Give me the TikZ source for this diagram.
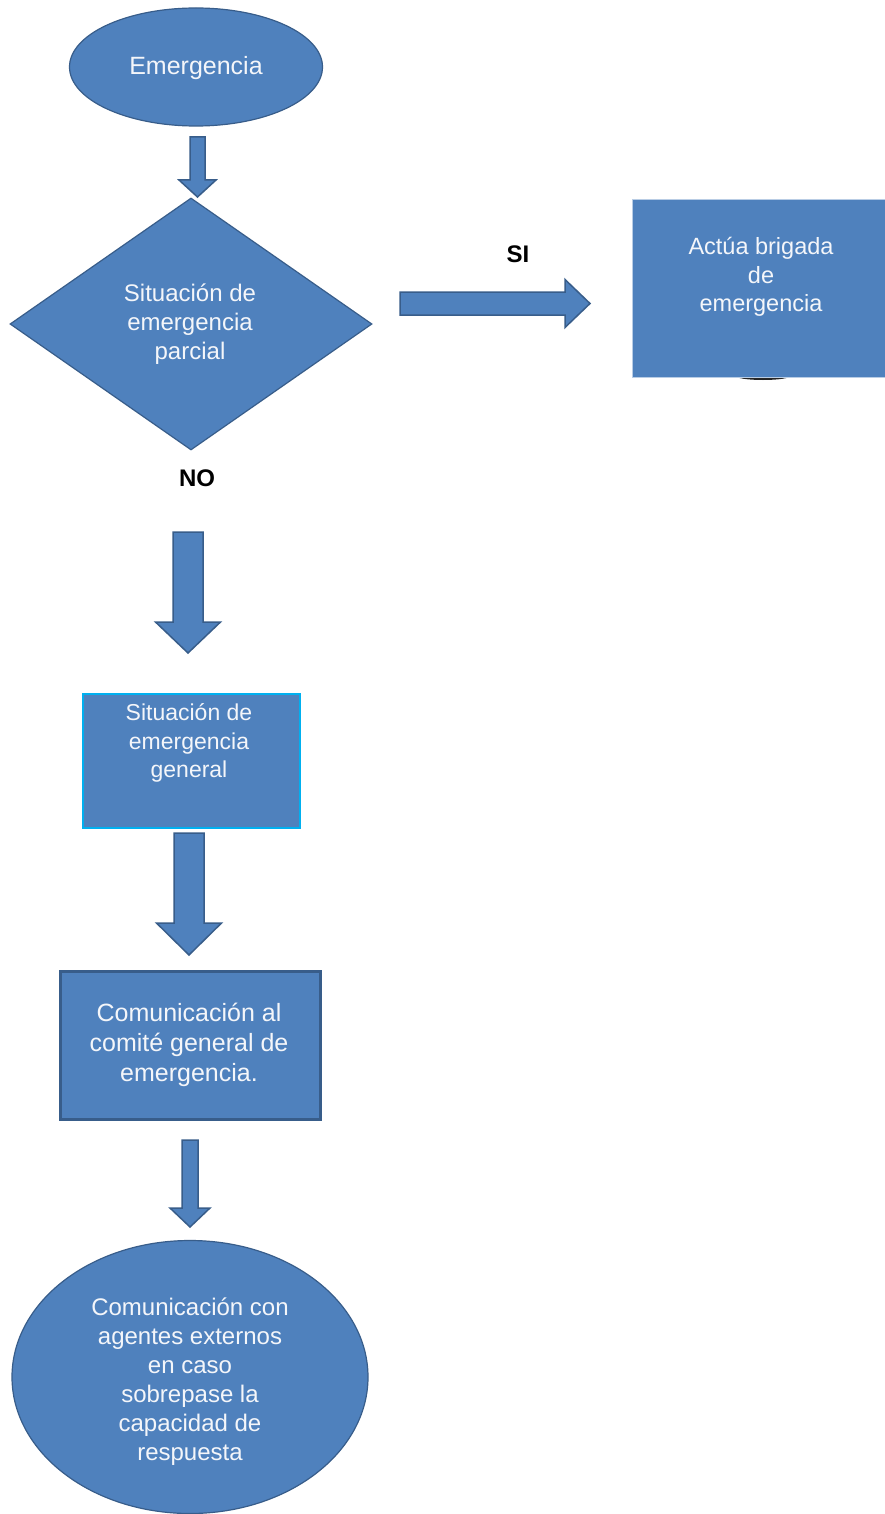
\documentclass[tikz,border=0pt]{standalone}
\usepackage{fontspec}
\setmainfont{Liberation Sans}
\usetikzlibrary{shapes.geometric}
\definecolor{fillblue}{HTML}{4F81BD}
\definecolor{darkblue}{HTML}{385D8A}
\definecolor{lightedge}{HTML}{B9CDE5}
\definecolor{cyanedge}{HTML}{00B0F0}
\definecolor{txtwhite}{HTML}{F4F6FA}
\tikzset{
  shapebox/.style={fill=fillblue, draw=darkblue, line width=1.2pt, inner sep=0pt},
  txt/.style={text=txtwhite, align=center, font=\fontsize{24}{29}\selectfont, inner sep=0pt},
  decision/.style={text=black, font=\bfseries\fontsize{24}{29}\selectfont, inner sep=0pt},
  blockarrow/.style={fill=fillblue, draw=darkblue, line width=1.5pt, line join=miter}
}
\newcommand\blockdown[6]{% cx, ytop, yhead, ytip, shaft half, head half
  \draw[blockarrow] (#1-#5,#2) -- (#1+#5,#2) -- (#1+#5,#3) -- (#1+#6,#3) -- (#1,#4) -- (#1-#6,#3) -- (#1-#5,#3) -- cycle;}
\begin{document}
\begin{tikzpicture}[x=1pt,y=-1pt]
\useasboundingbox (0,0) rectangle (885,1514);
\fill[white] (0,0) rectangle (885,1514);

% start ellipse
\node[shapebox, ellipse, minimum width=253, minimum height=118] (emer) at (196,67) {};
\node[txt, font=\fontsize{25}{30}\selectfont] (emert) at (196,68) {Emergencia};

% arrow 1
\coordinate (a1) at (197.5,137);
\blockdown{197.5}{137}{180}{197}{7.5}{18.5}

% decision diamond
\node[shapebox, diamond, minimum width=362, minimum height=252] (parc) at (191,324) {};
\node[txt] (parct) at (190,324) {Situación de\\emergencia\\parcial};

% SI arrow
\draw[blockarrow] (400,292) -- (565,292) -- (565,279.5) -- (590,303.5) -- (565,327.5) -- (565,315) -- (400,315) -- cycle;
\node[decision] (si) at (518,254) {SI};

% shadow under brigada box
\fill[black!85] (763,376) ellipse [x radius=27, y radius=4];
% brigada box
\node[fill=fillblue, draw=lightedge, line width=0.8pt, rectangle, anchor=north west, minimum width=260, minimum height=177, inner sep=0pt] (brig) at (632,199.5) {};
\node[txt, font=\fontsize{23.5}{28.5}\selectfont] (brigt) at (761,277) {Actúa brigada\\de\\emergencia};

% NO label
\node[decision] (no) at (197,478) {NO};

% arrow 2
\blockdown{188}{532}{622}{653}{15}{32.5}

% general box
\node[fill=fillblue, draw=cyanedge, line width=1.6pt, rectangle, anchor=north west, minimum width=217, minimum height=134, inner sep=0pt] (gen) at (82,693) {};
\node[txt, font=\fontsize{23}{28.5}\selectfont] (gent) at (189,743) {Situación de\\emergencia\\general};

% arrow 3
\blockdown{189}{833}{923}{955}{15}{32.5}

% comite box
\node[fill=fillblue, draw=darkblue, line width=2.5pt, rectangle, anchor=north west, minimum width=260, minimum height=148, inner sep=0pt] (com) at (59,970) {};
\node[txt, font=\fontsize{25}{30}\selectfont] (comt) at (189,1045) {Comunicación al\\comité general de\\emergencia.};

% arrow 4
\blockdown{190}{1140}{1208}{1227}{8}{20}

% final ellipse
\node[shapebox, ellipse, minimum width=356, minimum height=273] (ext) at (190,1377) {};
\node[txt] (extt) at (190,1382) {Comunicación con\\agentes externos\\en caso\\sobrepase la\\capacidad de\\respuesta};
\end{tikzpicture}
\end{document}
